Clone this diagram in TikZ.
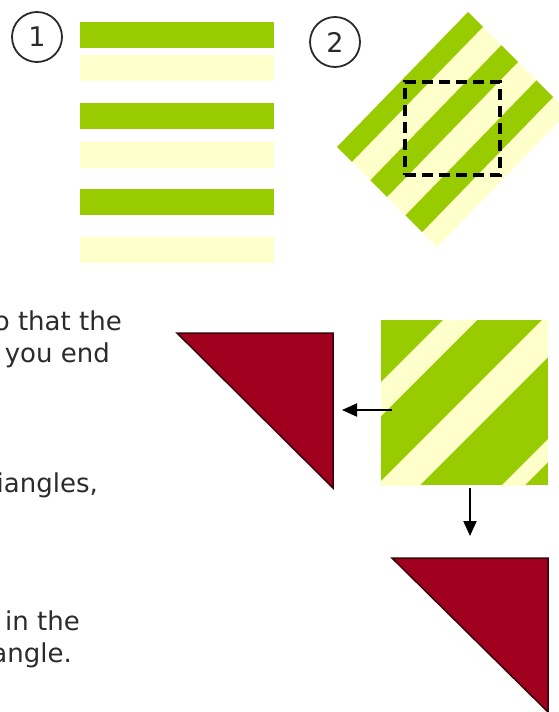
\documentclass[tikz,border=0pt]{standalone}
\usepackage{fontspec}
\setmainfont{DejaVu Sans}
\usetikzlibrary{calc,arrows.meta}
\definecolor{leaf}{HTML}{99CC00}
\definecolor{cream}{HTML}{FFFFCC}
\definecolor{wine}{HTML}{A0001E}
\definecolor{ink}{HTML}{2B2B2B}

\tikzset{
  numcirc/.style={circle, draw=ink, line width=1.8pt, minimum size=50pt, inner sep=0pt, text=ink, font=\fontsize{27}{30}\selectfont},
  txt/.style={anchor=base east, inner sep=0pt, text=ink, font=\fontsize{26}{32}\selectfont},
  cutbox/.style={draw=black, line width=3.2pt, dash pattern=on 11pt off 6pt, inner sep=0pt},
  tri/.style={fill=wine, draw=wine!35!black, line width=1.5pt},
  arr/.style={-{Triangle[length=15pt,width=13pt]}, line width=2pt, black}
}

\begin{document}
\begin{tikzpicture}[x=1pt,y=-1pt]
\useasboundingbox (0,0) rectangle (559,712);
\clip (0,0) rectangle (559,712);

% step 1: flat bars
\node[numcirc] (N1) at (37,37) {1};
\foreach \y in {22,103,189} \fill[leaf] (80,\y) rectangle (274,\y+26);
\foreach \y in {55,142,237} \fill[cream] (80,\y) rectangle (274,\y+26);

% step 2: turned bars and cut
\node[numcirc] (N2) at (335,42) {2};
\coordinate (L) at (337,147);
\coordinate (T) at (468,12);
\coordinate (B) at (437,247);
\coordinate (R) at (568,112);
\fill[cream] (L) -- (T) -- (R) -- (B) -- cycle;
\foreach \a/\b in {0/0.149, 0.333/0.5, 0.684/0.851}
  \fill[leaf] ($(L)!\a!(B)$) -- ($(T)!\a!(R)$) -- ($(T)!\b!(R)$) -- ($(L)!\b!(B)$) -- cycle;
\node[cutbox, minimum width=95pt, minimum height=93pt] (cut) at (452.5,128.5) {};

% cut square
\begin{scope}
\clip (381,320) rectangle (548,485);
\fill[leaf] (381,320) rectangle (548,485);
\foreach \s/\t in {763/797, 862/905, 987/1010}
  \fill[cream] (\s-300,300) -- (\t-300,300) -- (\t-500,500) -- (\s-500,500) -- cycle;
\end{scope}

% triangles
\coordinate (P1) at (177,333);
\coordinate (P2) at (333,333);
\coordinate (P3) at (333,488);
\draw[tri] (P1) -- (P2) -- (P3) -- cycle;
\coordinate (Q1) at (392,558);
\coordinate (Q2) at (548,558);
\coordinate (Q3) at (548,712);
\draw[tri] (Q1) -- (Q2) -- (Q3) -- cycle;

% arrows
\coordinate (A1) at (392,410);
\coordinate (A2) at (342,410);
\draw[arr] (A1) -- (A2);
\coordinate (A3) at (470,488);
\coordinate (A4) at (470,536);
\draw[arr] (A3) -- (A4);

% text cut at the left edge
\node[txt] (l1) at (122,330) {o that the};
\node[txt] (l2) at (110,362) {you end};
\node[txt] (l3) at (98,492) {iangles,};
\node[txt] (l4) at (80,630) {in the};
\node[txt] (l5) at (72,662) {angle.};
\end{tikzpicture}
\end{document}
